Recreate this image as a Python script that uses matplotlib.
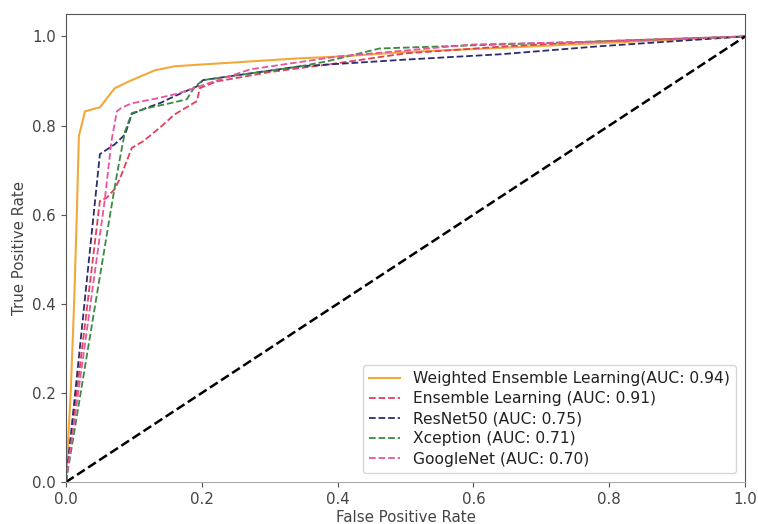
import matplotlib
matplotlib.use("Agg")
import matplotlib.pyplot as plt

# ROC points
weighted_fpr = [0.0, 0.007, 0.012, 0.016, 0.019, 0.028, 0.05, 0.072, 0.094, 0.131, 0.16, 0.2, 0.345, 0.404, 0.5, 0.65, 0.8, 1.0]
weighted_tpr = [0.0, 0.2, 0.4, 0.6, 0.776, 0.832, 0.841, 0.884, 0.9, 0.924, 0.933, 0.937, 0.951, 0.955, 0.965, 0.975, 0.986, 1.0]

ensemble_fpr = [0.0, 0.05, 0.06, 0.072, 0.08, 0.097, 0.114, 0.138, 0.16, 0.193, 0.197, 0.222, 0.3, 0.4, 0.5, 0.65, 0.8, 1.0]
ensemble_tpr = [0.0, 0.631, 0.638, 0.658, 0.683, 0.75, 0.765, 0.795, 0.825, 0.855, 0.884, 0.899, 0.92, 0.94, 0.962, 0.978, 0.99, 1.0]

resnet_fpr = [0.0, 0.05, 0.072, 0.087, 0.097, 0.119, 0.138, 0.16, 0.193, 0.202, 0.345, 0.5, 0.64, 0.786, 1.0]
resnet_tpr = [0.0, 0.736, 0.758, 0.78, 0.826, 0.84, 0.85, 0.866, 0.888, 0.902, 0.933, 0.948, 0.96, 0.978, 1.0]

xception_fpr = [0.0, 0.065, 0.075, 0.087, 0.097, 0.119, 0.153, 0.178, 0.19, 0.202, 0.345, 0.384, 0.462, 0.6, 0.786, 1.0]
xception_tpr = [0.0, 0.6, 0.69, 0.787, 0.828, 0.839, 0.85, 0.859, 0.888, 0.902, 0.933, 0.944, 0.973, 0.98, 0.989, 1.0]

googlenet_fpr = [0.0, 0.057, 0.067, 0.075, 0.082, 0.097, 0.134, 0.16, 0.175, 0.2, 0.271, 0.4, 0.6, 0.8, 1.0]
googlenet_tpr = [0.0, 0.631, 0.765, 0.832, 0.84, 0.85, 0.861, 0.87, 0.877, 0.89, 0.926, 0.955, 0.982, 0.989, 1.0]

labels = [
    "Weighted Ensemble Learning(AUC: 0.94)",
    "Ensemble Learning (AUC: 0.91)",
    "ResNet50 (AUC: 0.75)",
    "Xception (AUC: 0.71)",
    "GoogleNet (AUC: 0.70)",
]


def main():
    plt.rcParams["font.size"] = 10.8
    fig = plt.figure(figsize=(7.58, 5.24), dpi=100)
    ax = fig.add_axes([0.087, 0.080, 0.896, 0.893])

    ax.plot(weighted_fpr, weighted_tpr, color="#f3a83a", lw=1.5, label=labels[0])
    ax.plot(ensemble_fpr, ensemble_tpr, "--", color="#e0405a", lw=1.3, label=labels[1])
    ax.plot(resnet_fpr, resnet_tpr, "--", color="#2b2d6e", lw=1.3, label=labels[2])
    ax.plot(xception_fpr, xception_tpr, "--", color="#3a8a40", lw=1.3, label=labels[3])
    ax.plot(googlenet_fpr, googlenet_tpr, "--", color="#e6559e", lw=1.3, label=labels[4])
    ax.plot([0, 1], [0, 1], "k--", lw=1.8)

    ax.set_xlim(0.0, 1.0)
    ax.set_ylim(0.0, 1.05)
    ax.set_xlabel("False Positive Rate", color="#444444", labelpad=2)
    ax.set_ylabel("True Positive Rate", color="#444444")
    ax.tick_params(colors="#555555", labelcolor="#444444")
    for s in ax.spines.values():
        s.set_color("#555555")
    ax.spines["bottom"].set_color("#aaaaaa")
    leg = ax.legend(loc="lower right", fontsize=11.2, labelspacing=0.33,
                    handlelength=2.0, borderaxespad=0.6)
    for t in leg.get_texts():
        t.set_color("#222222")

    plt.savefig("out.png")


if __name__ == "__main__":
    main()
